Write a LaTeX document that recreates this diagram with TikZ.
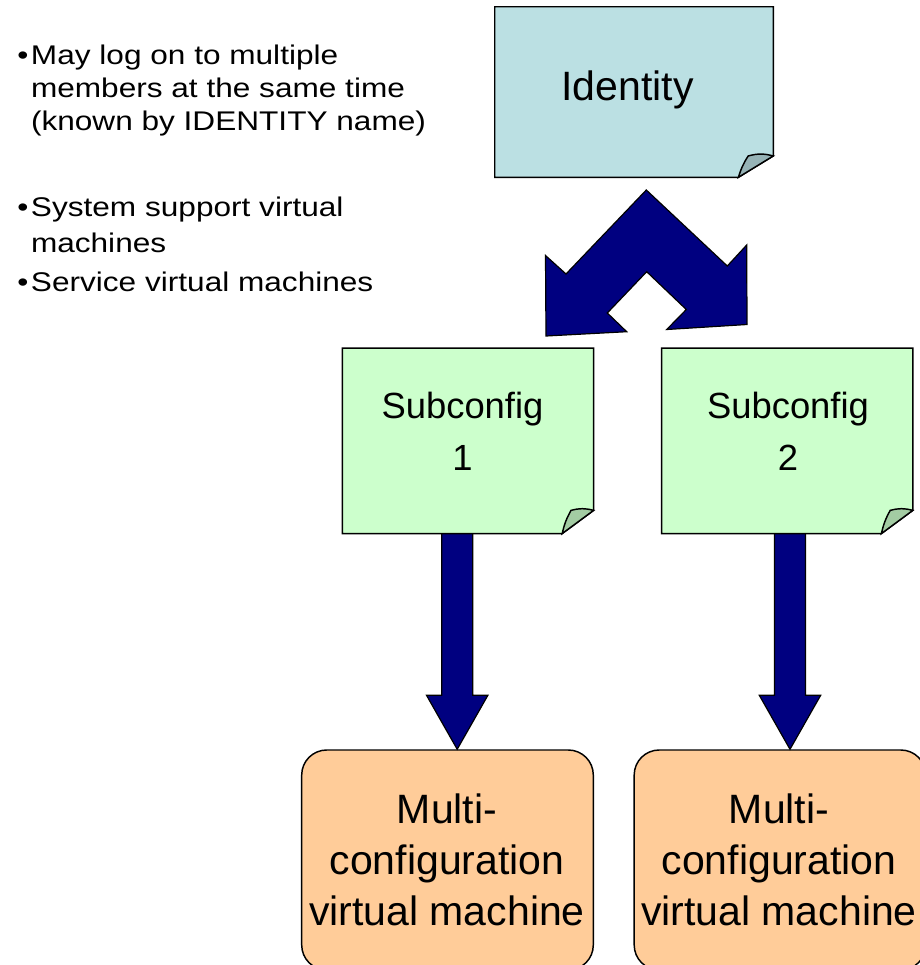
\documentclass[tikz,border=0pt]{standalone}
\usepackage{fontspec}
\setmainfont{Liberation Sans}
\newfontfamily\bulletfont[FakeStretch=1.17]{Liberation Sans}
\usetikzlibrary{calc}
\definecolor{idfill}{RGB}{187,224,227}
\definecolor{idflap}{RGB}{150,179,182}
\definecolor{subfill}{RGB}{204,255,204}
\definecolor{subflap}{RGB}{163,204,163}
\definecolor{vmfill}{RGB}{255,204,153}
\definecolor{navyblue}{RGB}{0,0,128}
\newcommand{\foldnote}[3]{%
  \coordinate (#1c1) at ($(#1.south east)!0.125!(#1.north east)$);
  \coordinate (#1c2) at ($(#1.south east)!0.125!(#1.south west)$);
  \coordinate (#1tx) at ($(#1.south east)!0.09!(#1.south west)$);
  \coordinate (#1tp) at (#1tx |- #1c1);
  \draw[boxline, fill=#2] (#1.north west) -- (#1.north east) -- (#1c1) -- (#1c2) -- (#1.south west) -- cycle;
  \draw[boxline, fill=#3] (#1c2) to[bend left=8] (#1tp) to[bend left=15] (#1c1) -- cycle;
}
\begin{document}
\begin{tikzpicture}[x=0.75pt,y=-0.75pt,
  boxline/.style={draw=black,line width=1.1pt,line join=miter},
  blockarrow/.style={fill=navyblue,draw=black,line width=0.9pt,line join=miter},
  notebox/.style={inner sep=0pt,minimum height=138.75pt,minimum width=188pt},
  vmbox/.style={draw=black,line width=1.1pt,fill=vmfill,rounded corners=18.75pt,inner sep=0pt,minimum width=218.7pt,minimum height=165pt},
  txt/.style={inner sep=0pt,anchor=base}]
\useasboundingbox (0,0) rectangle (920,965);
\clip (0,0) rectangle (920,965);

% box nodes
\node[inner sep=0pt,minimum width=208.5pt,minimum height=127.5pt] (id) at (634,92) {};
\node[notebox] (s1) at (468,440.8) {};
\node[notebox] (s2) at (787.2,440.8) {};
\node[vmbox] (m1) at (447.5,860) {};
\node[vmbox] (m2) at (780,860) {};

% double chevron arrow from Identity to the subconfigs
\draw[blockarrow] (646.3,190) -- (566,274) -- (545.5,255.5) -- (546,336) -- (626.7,331.7) -- (607.3,313) -- (646.7,271.7) -- (686.3,309.5) -- (666.7,329.5) -- (747,324.5) -- (746.7,245) -- (727.3,266) -- cycle;

% block arrows down
\coordinate (a1s) at (457.2,533.3);
\coordinate (a1t) at (a1s |- m1.north);
\coordinate (a2s) at (790,533.3);
\coordinate (a2t) at (a2s |- m2.north);
\draw[blockarrow] ($(a1s)+(-15.5,0)$) -- ($(a1s)+(15.5,0)$) -- ($(a1t)+(15.5,-54)$) -- ($(a1t)+(30.7,-54)$) -- (a1t) -- ($(a1t)+(-30.7,-54)$) -- ($(a1t)+(-15.5,-54)$) -- cycle;
\draw[blockarrow] ($(a2s)+(-15.5,0)$) -- ($(a2s)+(15.5,0)$) -- ($(a2t)+(15.5,-54)$) -- ($(a2t)+(30.7,-54)$) -- (a2t) -- ($(a2t)+(-30.7,-54)$) -- ($(a2t)+(-15.5,-54)$) -- cycle;

% folded-corner notes
\foldnote{id}{idfill}{idflap}
\foldnote{s1}{subfill}{subflap}
\foldnote{s2}{subfill}{subflap}

% texts
\node[txt,font=\fontsize{30.75pt}{36pt}\selectfont] (idt) at (627.5,100) {Identity};
\node[txt,font=\fontsize{27.3pt}{39pt}\selectfont] (s1t) at (462.5,418) {\begin{tabular}[t]{@{}c@{}}Subconfig\\1\end{tabular}};
\node[txt,font=\fontsize{27.3pt}{39pt}\selectfont] (s2t) at (788,418) {\begin{tabular}[t]{@{}c@{}}Subconfig\\2\end{tabular}};
\node[txt,font=\fontsize{30.75pt}{38.25pt}\selectfont] (m1t) at (447,823) {\begin{tabular}[t]{@{}c@{}}Multi-\\configuration\\virtual machine\end{tabular}};
\node[txt,font=\fontsize{30.75pt}{38.25pt}\selectfont] (m2t) at (779,823) {\begin{tabular}[t]{@{}c@{}}Multi-\\configuration\\virtual machine\end{tabular}};

% bullet list
\node[anchor=base west,inner sep=0pt,font=\bulletfont\fontsize{20.25pt}{24.75pt}\selectfont] (b1) at (17,64) {\begin{tabular}[t]{@{}l@{}l@{}}\makebox[10.3pt][l]{•}&May log on to multiple\\&members at the same time\\&(known by IDENTITY name)\end{tabular}};
\node[anchor=base west,inner sep=0pt,font=\bulletfont\fontsize{20.25pt}{26.6pt}\selectfont] (b2) at (17,216.7) {\begin{tabular}[t]{@{}l@{}l@{}}\makebox[10.3pt][l]{•}&System support virtual\\&machines\end{tabular}};
\node[anchor=base west,inner sep=0pt,font=\bulletfont\fontsize{20.25pt}{26.6pt}\selectfont] (b3) at (17,291) {\begin{tabular}[t]{@{}l@{}l@{}}\makebox[10.3pt][l]{•}&Service virtual machines\end{tabular}};
\end{tikzpicture}
\end{document}
